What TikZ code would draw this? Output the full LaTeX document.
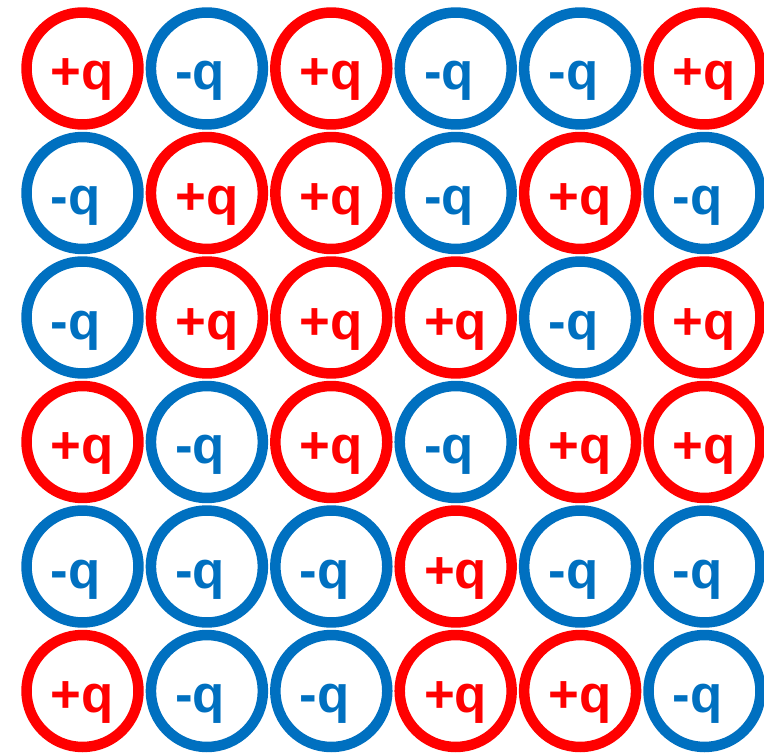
\documentclass[tikz,border=0pt]{standalone}
\usepackage{fontspec}
\setmainfont{Liberation Sans}
\usepackage{tikz}
\usetikzlibrary{calc}
\definecolor{chargered}{RGB}{255,0,0}
\definecolor{chargeblue}{RGB}{0,112,192}
\newcommand{\chgtextp}{+q}
\newcommand{\chgtextn}{-q}

\tikzset{
  ring/.style={circle, draw, line width=0.21cm, minimum size=2.24cm, inner sep=0pt},
  ringp/.style={ring, draw=chargered},
  ringn/.style={ring, draw=chargeblue},
  sign/.style={anchor=base west, inner sep=0pt, font=\fontsize{30}{36}\selectfont\bfseries},
  signp/.style={sign, text=chargered},
  signn/.style={sign, text=chargeblue},
}

\begin{document}
\begin{tikzpicture}[x=0.02cm, y=-0.02cm]
  \useasboundingbox (0,0) rectangle (764,753);
  % p = +q, n = -q, one list per row
  \foreach \signs [count=\r] in {{p,n,p,n,n,p},{n,p,p,n,p,n},{n,p,p,p,n,p},{p,n,p,n,p,p},{n,n,n,p,n,n},{p,n,n,p,p,n}} {
    \foreach \s [count=\c] in \signs {
      \node[ring\s] (q-\r-\c) at ({82.5+124.4*(\c-1)},{68.5+124.5*(\r-1)}) {};
      \node[sign\s] (t-\r-\c) at ($(q-\r-\c.center)+(-32,21.5)$) {\csname chgtext\s\endcsname};
    }
  }
\end{tikzpicture}
\end{document}
